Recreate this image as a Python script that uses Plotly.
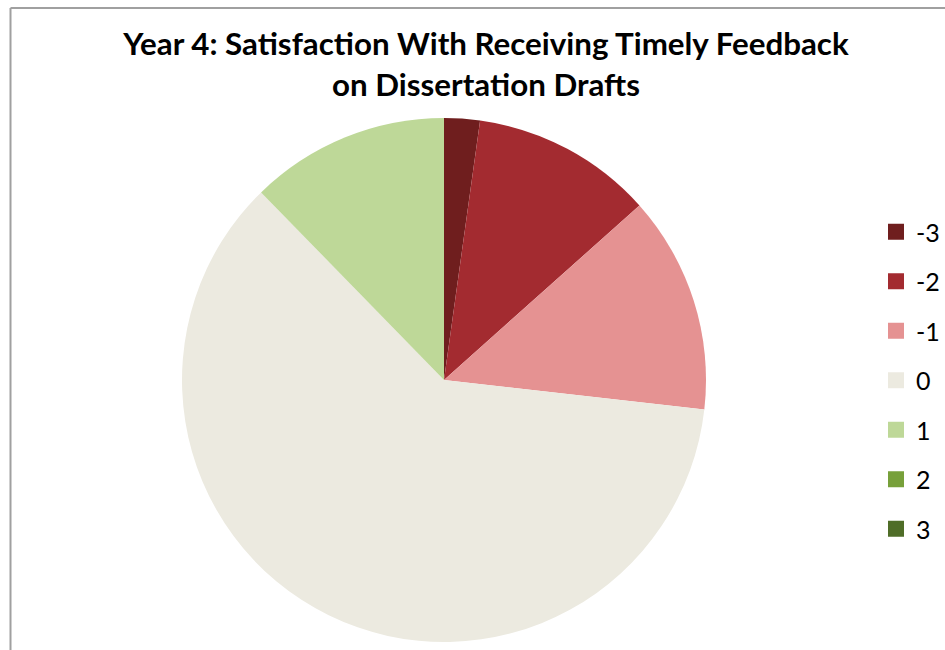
import plotly.graph_objects as go

# Data (percent of responses)
categories = ["-3", "-2", "-1", "0", "1", "2", "3"]
values = [2.2, 11.2, 13.4, 60.9, 12.3, 0.0, 0.0]
colors = ["#6F1E1E", "#A32B30", "#E59292", "#ECEAE0", "#BED898", "#77A03A", "#4F6D28"]

title_text = "Year 4: Satisfaction With Receiving Timely Feedback<br>on Dissertation Drafts"

W, H = 945, 650
cx, cy, r = 444, 380, 262

fig = go.Figure()
fig.add_trace(go.Pie(
    labels=categories,
    values=values,
    sort=False,
    direction="clockwise",
    rotation=0,
    textinfo="none",
    marker=dict(colors=colors, line=dict(width=0)),
    showlegend=False,
    domain=dict(x=[(cx - r) / W, (cx + r) / W], y=[1 - (cy + r) / H, 1 - (cy - r) / H]),
))

# legend entries (one per category)
for i, (cat, col) in enumerate(zip(categories, colors)):
    fig.add_trace(go.Scatter(
        x=[None], y=[None], mode="markers", name=cat,
        marker=dict(symbol="square", size=18, color=col),
        legendgroup=f"g{i}", showlegend=True,
    ))

fig.update_xaxes(visible=False)
fig.update_yaxes(visible=False)

fig.update_layout(
    width=W, height=H,
    margin=dict(l=0, r=0, t=0, b=0),
    paper_bgcolor="white", plot_bgcolor="white",
    title=dict(text=title_text, x=486 / W, xanchor="center", xref="paper",
               y=1 - 55 / H, yanchor="middle", yref="container",
               font=dict(family="Lato", size=31.3, color="black", weight="bold")),
    legend=dict(x=876 / W, xanchor="left", y=1 - 209 / H, yanchor="top",
                font=dict(family="Lato", size=25, color="black"),
                tracegroupgap=14, itemsizing="trace", bgcolor="rgba(0,0,0,0)"),
    shapes=[
        dict(type="line", xref="paper", yref="paper", x0=10.5 / W, x1=10.5 / W, y0=0, y1=1 - 8 / H,
             line=dict(color="#A0A0A0", width=2)),
        dict(type="line", xref="paper", yref="paper", x0=10.5 / W, x1=1, y0=1 - 8 / H, y1=1 - 8 / H,
             line=dict(color="#A0A0A0", width=2)),
    ],
)

fig.write_html("out.html")
